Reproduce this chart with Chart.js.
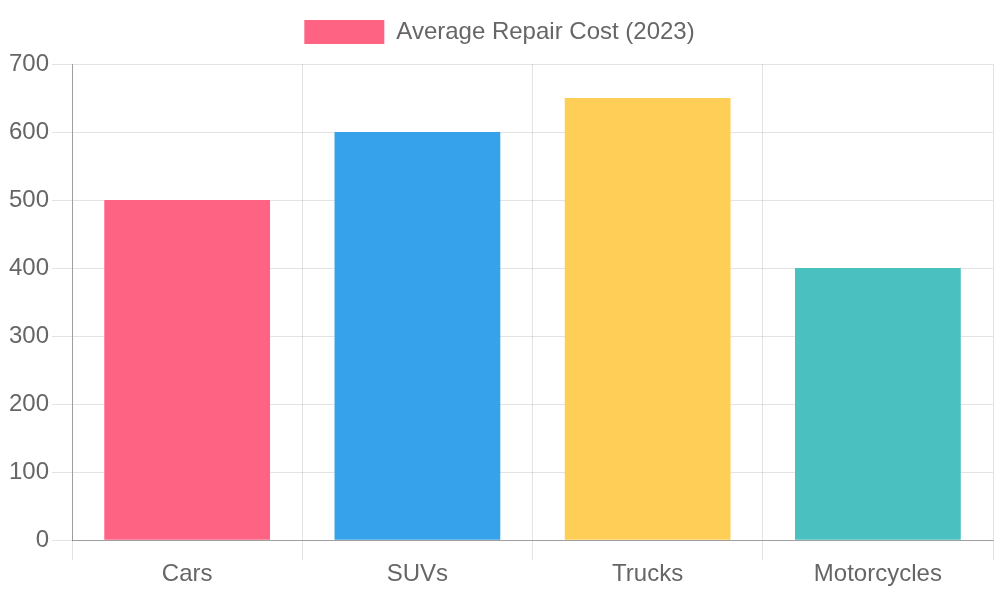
<!DOCTYPE html>
<html>
<head>
<meta charset="utf-8">
<script src="https://cdn.jsdelivr.net/npm/chart.js@4/dist/chart.umd.min.js"></script>
<style>
  html, body { margin: 0; padding: 0; background: #fff; }
  #wrap { width: 1000px; height: 600px; }
</style>
</head>
<body>
<div id="wrap"><canvas id="c"></canvas></div>
<script>
const categories = ["Cars", "SUVs", "Trucks", "Motorcycles"];
const seriesLabel = "Average Repair Cost (2023)";
const repairCost = [500, 600, 650, 400];
const barColors = ["#FF6384", "#36A2EB", "#FFCE56", "#4BC0C0"];

Chart.defaults.font.family = "'Liberation Sans', Arial, Helvetica, sans-serif";
Chart.defaults.font.size = 24;
Chart.defaults.color = "#666";

const legendSpacer = {
  id: "legendSpacer",
  beforeInit(chart) {
    const origFit = chart.legend.fit;
    chart.legend.fit = function () {
      origFit.call(this);
      this.height += 10;
    };
  }
};

new Chart(document.getElementById("c"), {
  type: "bar",
  data: {
    labels: categories,
    datasets: [{
      label: seriesLabel,
      data: repairCost,
      backgroundColor: barColors,
      borderColor: barColors,
      borderWidth: 0
    }]
  },
  options: {
    responsive: true,
    maintainAspectRatio: false,
    animation: false,
    layout: { padding: { top: 10, left: 6, right: 7, bottom: 11 } },
    plugins: {
      legend: {
        display: true,
        position: "top",
        labels: { boxWidth: 80, boxHeight: 24, padding: 10 }
      },
      tooltip: { enabled: false }
    },
    scales: {
      x: {
        grid: { color: "rgba(0,0,0,0.11)", tickLength: 20 },
        border: { color: "rgba(0,0,0,0.3)" },
        ticks: { padding: 0 }
      },
      y: {
        min: 0,
        max: 700,
        ticks: { stepSize: 100, padding: 3 },
        grid: { color: "rgba(0,0,0,0.11)", tickLength: 20 },
        border: { color: "rgba(0,0,0,0.3)" }
      }
    }
  },
  plugins: [legendSpacer]
});
</script>
</body>
</html>
